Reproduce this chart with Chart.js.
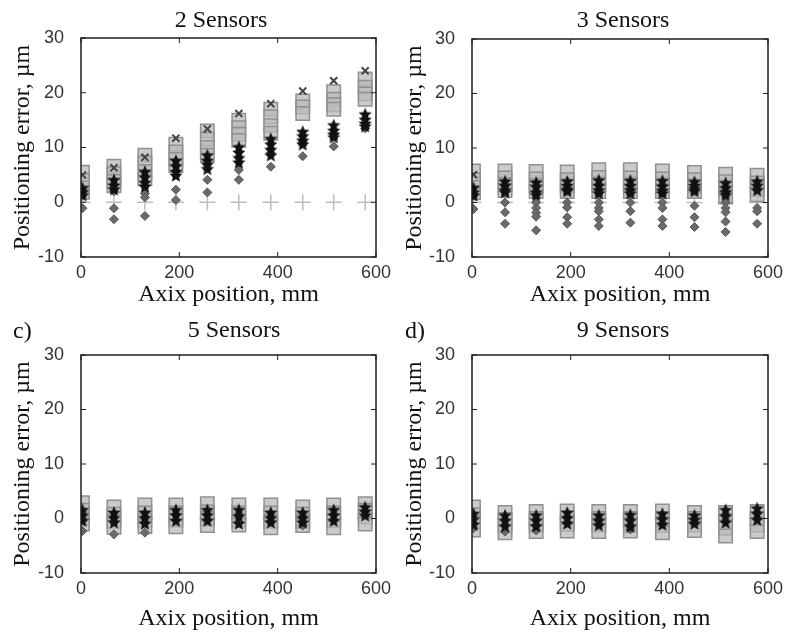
<!DOCTYPE html>
<html>
<head>
<meta charset="utf-8">
<script src="https://cdn.jsdelivr.net/npm/chart.js@4"></script>
<style>
  body { margin: 0; background: #fff; }
  #wrap { position: relative; width: 785px; height: 637px; overflow: hidden; }
  canvas { position: absolute; }
</style>
</head>
<body>
<div id="wrap">
  <canvas id="c2" width="392" height="310" style="left:0;top:0"></canvas>
  <canvas id="c3" width="393" height="310" style="left:392px;top:0"></canvas>
  <canvas id="c5" width="392" height="327" style="left:0;top:310px"></canvas>
  <canvas id="c9" width="393" height="327" style="left:392px;top:310px"></canvas>
</div>
<script>
// axis positions (mm) of the measurement clusters
const xPos = [3, 67, 130, 193, 257, 321, 386, 451, 514, 578];
const xTicks = [0, 200, 400, 600];
const yTicks = [-10, 0, 10, 20, 30];

// 2 sensors
const sq2 = [[5.5,4,2.6,1.8],[6.6,5.2,3.8,3],[8.6,7.2,5.6,4.3],[10.6,9.2,7.8,6.7],[13,11.5,10,8.6],[15,13.6,12.4,11.3],[17,15.6,14,12.6],[18.5,17.4,16.2],[20.2,18.8,17.8,17],[22.5,21,19.8,18.8]];
const st2 = [[2.5,1.8,1.2],[4,3,2.3],[5.5,4.5,3.5,2.8],[7.5,6.5,5.5,4.8],[8.5,7.5,6.8,6],[10,9,8,7.2],[11.5,10.5,9.5,8.5],[12.8,12,11.2,10.5],[14,13,12.3,11.8],[16,15,14.3,13.8]];
const dm2 = [[2.2,-1.1],[2,-1.1,-3.1],[1.6,0.9,-2.5],[2.3,0.4],[4.1,1.8],[5.9,4.1],[9,6.5],[11,8.4],[12.5,10.2],[13.5]];
const cr2 = [[5],[6.3],[8.2],[11.7],[13.4],[16.2],[18],[20.3],[22.2],[24]];

// 3 sensors
const sq3 = [[5.8,4.2,2.8,1.8],[5.8,4.5,3.2,2.2],[5.7,4.3,3,2],[5.6,4.2,3,2],[6,4.6,3.3,2],[6,4.5,3.2,2],[5.8,4.3,3,2],[5.5,4.2,3,2],[5.2,3.8,2.5,1],[5,3.6,2.4,1.4]];
const st3 = [[2.6,1.8,1.2],[3.8,3,2.2,1.8],[3.6,2.8,1.8,1.3],[3.8,3,2.3,2],[4,3,2.2,1.6],[3.9,3,2.2,1.6],[3.9,2.9,2.1,1.6],[3.7,3,2.4,2],[3.5,2.6,1.8,1.3],[3.8,3,2.2]];
const dm3 = [[-1.2],[0,-1.8,-3.9],[0,-1,-1.9,-2.6,-5.1],[0,-0.9,-2.7,-3.9],[0,-1,-1.6,-3.1,-4.3],[0,-1.6,-3.7],[0,-1,-3.1,-4.3],[-0.6,-2.7,-4.5],[0,-1,-1.8,-3.5,-5.4],[-1,-1.6,-3.9]];
const cr3 = [[5.1],[],[],[],[],[],[],[],[],[]];

// 5 sensors
const sq5 = [[2.9,1.5,0,-1],[2.1,0.8,-0.5,-1.6],[2.5,1,-0.3,-1.5],[2.5,1,-0.3,-1.5],[2.7,1.2,0,-1.3],[2.5,1,-0.3,-1.2],[2.5,1,-0.5,-1.7],[2.1,0.8,-0.5,-1.3],[2.5,1,-0.4,-1.7],[2.7,1.5,0.3,-1]];
const st5 = [[1.5,0.5,-0.5],[1,0,-0.8],[1,0,-1],[1.5,0.5,-0.5],[1.5,0.5,-0.5],[1.5,0.3,-1],[1,0,-0.8],[1,0,-0.8],[1.5,0.5,-0.5],[2,1.2,0.5]];
const dm5 = [[-2.3],[-2.9],[-2.6],[],[],[],[],[-1.3],[],[]];
const cr5 = [[],[],[],[],[],[],[],[],[],[]];

// 9 sensors
const sq9 = [[2.1,0.7,-0.7,-2.1],[1.1,-0.2,-1.4,-2.6],[1.3,0,-1.2,-2.4],[1.4,0.1,-1.1,-2.3],[1.3,0,-1.2,-2.4],[1.3,0,-1.2,-2.3],[1.4,0,-1.3,-2.6],[1.1,0,-1.2,-2.2],[1.1,-0.4,-1.8,-3.2],[1.3,0,-1.2,-2.4]];
const st9 = [[0.8,-0.2,-1.2],[0.5,-0.5,-1.5],[0.5,-0.5,-1.5],[1,0,-1],[0.5,-0.5,-1.3],[0.6,-0.5,-1.6],[0.8,-0.2,-1.2],[0.5,-0.3,-1],[1.5,0.3,-0.8],[1.8,0.8,-0.3]];
const dm9 = [[-1.8],[-2.4],[-2.2],[],[],[-2],[],[],[],[]];
const cr9 = [[],[],[],[],[],[],[],[],[],[]];

const zeroLine = [0,0,0,0,0,0,0,0,0,0];

function pts(groups) {
  const out = [];
  groups.forEach((g, i) => g.forEach(v => out.push({ x: xPos[i], y: v })));
  return out;
}

function starImage(r) {
  const c = document.createElement('canvas');
  const s = Math.ceil(r * 2 + 2);
  c.width = s; c.height = s;
  const g = c.getContext('2d');
  g.beginPath();
  for (let k = 0; k < 10; k++) {
    const rr = k % 2 ? r * 0.45 : r;
    const a = -Math.PI / 2 + k * Math.PI / 5;
    g.lineTo(s / 2 + rr * Math.cos(a), s / 2 + rr * Math.sin(a));
  }
  g.closePath();
  g.fillStyle = '#111';
  g.fill();
  return c;
}
const star = starImage(7);

// frame, inward ticks and panel captions
const framePlugin = {
  id: 'frame',
  beforeDraw(chart) {
    const ctx = chart.ctx;
    ctx.save();
    ctx.fillStyle = '#fff';
    ctx.fillRect(0, 0, chart.width, chart.height);
    ctx.restore();
  },
  afterDraw(chart, args, opts) {
    const { ctx, chartArea: a } = chart;
    const x = chart.scales.x, y = chart.scales.y;
    ctx.save();
    ctx.strokeStyle = '#1e1e1e';
    ctx.lineWidth = 1.5;
    ctx.strokeRect(a.left, a.top, a.width, a.height);
    ctx.lineWidth = 1;
    ctx.beginPath();
    xTicks.forEach(v => {
      const px = x.getPixelForValue(v);
      ctx.moveTo(px, a.top); ctx.lineTo(px, a.top + 5);
      ctx.moveTo(px, a.bottom); ctx.lineTo(px, a.bottom - 5);
    });
    yTicks.forEach(v => {
      const py = y.getPixelForValue(v);
      ctx.moveTo(a.left, py); ctx.lineTo(a.left + 5, py);
      ctx.moveTo(a.right, py); ctx.lineTo(a.right - 5, py);
    });
    ctx.stroke();
    ctx.fillStyle = '#111';
    ctx.font = '24px "Liberation Serif", "Times New Roman", serif';
    ctx.textBaseline = 'alphabetic';
    ctx.textAlign = 'center';
    ctx.fillText(opts.text, opts.tx, 27);
    if (opts.tag) {
      ctx.textAlign = 'left';
      ctx.fillText(opts.tag, 13, 28);
    }
    ctx.restore();
  }
};

function makeChart(id, sq, st, dm, cr, cfg) {
  new Chart(document.getElementById(id), {
    type: 'scatter',
    data: {
      datasets: [
        { data: pts(st), pointStyle: star, pointRadius: 7 },
        { data: pts(cr), pointStyle: 'crossRot', pointRadius: 5, borderColor: '#444', borderWidth: 2 },
        { data: pts(dm), pointStyle: 'rectRot', pointRadius: 4.5, backgroundColor: '#6a6a6a', borderColor: '#5a5a5a', borderWidth: 1 },
        { data: pts(sq), pointStyle: 'rect', pointRadius: 9.5, backgroundColor: 'rgba(185,185,185,0.75)', borderColor: '#909090', borderWidth: 1.5 },
        { data: pts(zeroLine.map(v => [v])), pointStyle: 'cross', pointRadius: 8, borderColor: '#bdbdbd', borderWidth: 1.5 }
      ]
    },
    options: {
      responsive: false,
      animation: false,
      devicePixelRatio: 1,
      layout: { padding: { top: cfg.top, right: cfg.right, left: 0, bottom: 0 } },
      plugins: {
        legend: { display: false },
        tooltip: { enabled: false },
        frame: { text: cfg.title, tx: cfg.tx, tag: cfg.tag }
      },
      scales: {
        x: {
          type: 'linear', min: 0, max: 600,
          afterFit(s) { s.height = cfg.xh; },
          grid: { display: false },
          border: { display: false },
          ticks: { stepSize: 200, padding: -3, color: '#333', font: { family: '"Liberation Sans", Arial, sans-serif', size: 18 } },
          title: { display: true, text: 'Axix position, mm', color: '#111', padding: { top: 0, bottom: cfg.xtp },
            font: { family: '"Liberation Serif", "Times New Roman", serif', size: 24, lineHeight: 1 } }
        },
        y: {
          min: -10, max: 30,
          afterFit(s) { s.width = cfg.yw; },
          grid: { display: false },
          border: { display: false },
          ticks: { stepSize: 10, padding: 9, color: '#333', font: { family: '"Liberation Sans", Arial, sans-serif', size: 18 } },
          title: { display: true, text: 'Positioning error, µm', color: '#111', padding: { top: 11, bottom: 0 },
            font: { family: '"Liberation Serif", "Times New Roman", serif', size: 24, lineHeight: 1 } }
        }
      }
    },
    plugins: [framePlugin]
  });
}

makeChart('c2', sq2, st2, dm2, cr2, { top: 38, right: 16, yw: 81, xh: 53, xtp: 3, title: '2 Sensors', tx: 221 });
makeChart('c3', sq3, st3, dm3, cr3, { top: 39, right: 17, yw: 80, xh: 53, xtp: 3, title: '3 Sensors', tx: 231 });
makeChart('c5', sq5, st5, dm5, cr5, { top: 45, right: 16, yw: 81, xh: 64, xtp: 6, title: '5 Sensors', tx: 234, tag: 'c)' });
makeChart('c9', sq9, st9, dm9, cr9, { top: 45, right: 17, yw: 80, xh: 64, xtp: 6, title: '9 Sensors', tx: 231, tag: 'd)' });
</script>
</body>
</html>
